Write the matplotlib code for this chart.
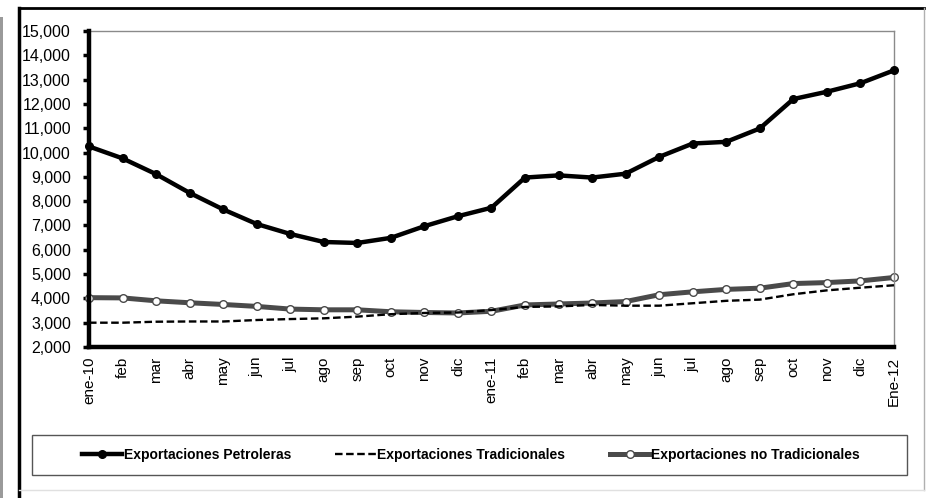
import matplotlib
matplotlib.use('Agg')
import matplotlib.pyplot as plt
from matplotlib.patches import Rectangle
from matplotlib.lines import Line2D
from matplotlib.ticker import FuncFormatter

plt.rcParams['font.family'] = ['Liberation Sans', 'DejaVu Sans']

# Meses ene-10 .. Ene-12
meses = ['ene-10', 'feb', 'mar', 'abr', 'may', 'jun', 'jul', 'ago', 'sep',
         'oct', 'nov', 'dic', 'ene-11', 'feb', 'mar', 'abr', 'may', 'jun',
         'jul', 'ago', 'sep', 'oct', 'nov', 'dic', 'Ene-12']

petroleras = [10250, 9760, 9110, 8340, 7660, 7060, 6650, 6320, 6280, 6490,
              6970, 7380, 7730, 8970, 9060, 8970, 9130, 9820, 10370, 10440,
              10990, 12200, 12500, 12850, 13380]

tradicionales = [3000, 3000, 3040, 3050, 3050, 3110, 3150, 3180, 3250, 3350,
                 3400, 3420, 3520, 3650, 3670, 3730, 3700, 3700, 3800, 3900,
                 3950, 4170, 4330, 4440, 4540]

no_tradicionales = [4030, 4020, 3900, 3820, 3750, 3670, 3560, 3530, 3530, 3450,
                    3420, 3400, 3470, 3730, 3770, 3810, 3870, 4150, 4270, 4370,
                    4420, 4610, 4650, 4720, 4860]

x = list(range(len(meses)))

fig = plt.figure(figsize=(9.26, 4.98), dpi=100)
ax = fig.add_axes([0.0961, 0.3032, 0.8693, 0.6346])

ax.plot(x, petroleras, color='black', lw=3.2, marker='o', ms=5.5,
        mfc='black', mec='black', zorder=4, clip_on=False)
ax.plot(x, no_tradicionales, color='#4a4a4a', lw=3.6, marker='o', ms=5.5,
        mfc='white', mec='#4a4a4a', mew=1.0, zorder=2, clip_on=False)
ax.plot(x, tradicionales, color='black', lw=1.7, ls=(0, (3.2, 1.5)),
        zorder=3, clip_on=False)

ax.set_xlim(0, len(meses) - 1)
ax.set_ylim(2000, 15000)
ax.set_yticks(range(2000, 15001, 1000))
ax.yaxis.set_major_formatter(FuncFormatter(lambda v, p: '{:,.0f}'.format(v)))
ax.set_xticks(x)
ax.set_xticklabels(meses, rotation=90)
ax.set_xticks(range(0, len(meses), 6), minor=True)

ax.tick_params(axis='y', direction='out', length=4, width=2.5, pad=9,
               labelsize=11.5, colors='black')
ax.tick_params(axis='x', which='major', length=0, pad=7, labelsize=11)
ax.tick_params(axis='x', which='minor', direction='out', length=3, width=2.5)

for s in ['left', 'bottom']:
    ax.spines[s].set_linewidth(3.2)
    ax.spines[s].set_color('black')
    ax.spines[s].set_zorder(5)
for s in ['top', 'right']:
    ax.spines[s].set_linewidth(1.0)
    ax.spines[s].set_color('#8a8a8a')

# legend box
fig.add_artist(Rectangle((32 / 926, 1 - 475 / 498), 875 / 926, 40 / 498,
                         transform=fig.transFigure, fill=False,
                         edgecolor='#555555', lw=1.0))

handles = [
    Line2D([], [], color='black', lw=3.2, marker='o', ms=5.5, mfc='black'),
    Line2D([], [], color='black', lw=1.7, ls=(0, (3.2, 1.5))),
    Line2D([], [], color='#4a4a4a', lw=3.6, marker='o', ms=5.5, mfc='white',
           mec='#4a4a4a'),
]
labels = ['Exportaciones Petroleras', 'Exportaciones Tradicionales',
          'Exportaciones no Tradicionales']
fig.legend(handles, labels, loc='center', ncol=3,
           bbox_to_anchor=(471 / 926, 1 - 455 / 498), frameon=False,
           prop={'size': 10, 'weight': 'bold'}, handlelength=2.9,
           handletextpad=0.1, columnspacing=3.2, numpoints=1)

# outer frame of the picture
fig.add_artist(Line2D([19 / 926, 924 / 926], [1 - 8 / 498, 1 - 8 / 498],
                      transform=fig.transFigure, color='black', lw=2.0))
fig.add_artist(Line2D([19 / 926, 19 / 926], [0, 1 - 8 / 498],
                      transform=fig.transFigure, color='black', lw=2.5))
fig.add_artist(Line2D([924 / 926, 924 / 926], [1 - 490 / 498, 1 - 8 / 498],
                      transform=fig.transFigure, color='#b0b0b0', lw=1.0))
fig.add_artist(Line2D([19 / 926, 924 / 926], [1 - 490 / 498, 1 - 490 / 498],
                      transform=fig.transFigure, color='#e0e0e0', lw=1.0))
fig.add_artist(Rectangle((0, 0), 3 / 926, 1 - 17 / 498,
                         transform=fig.transFigure, color='#9a9a9a', lw=0))

fig.savefig('out.png', dpi=100)
